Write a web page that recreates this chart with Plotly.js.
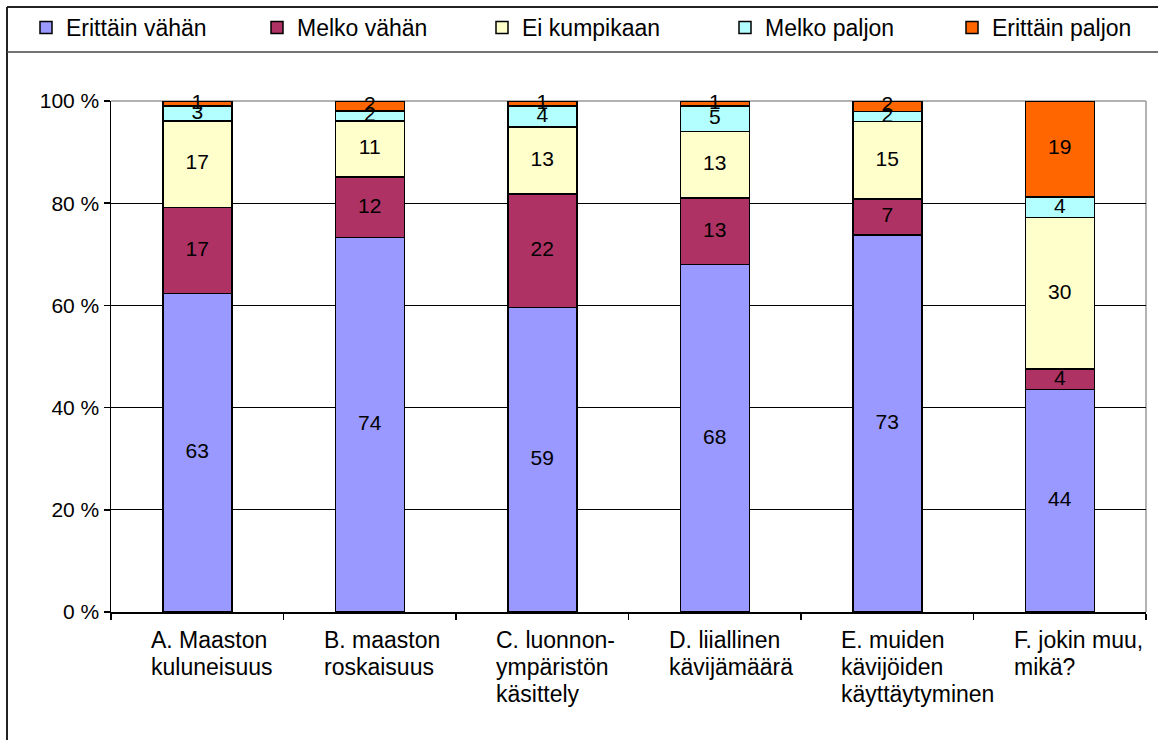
<!DOCTYPE html>
<html>
<head>
<meta charset="utf-8">
<script src="https://cdn.plot.ly/plotly-3.0.1.min.js"></script>
<style>
html,body{margin:0;padding:0;background:#fff;}
#chart{width:1158px;height:740px;}
</style>
</head>
<body>
<div id="chart"></div>
<script>
// ---- data ----
const categories = ['A', 'B', 'C', 'D', 'E', 'F'];
const categoryLines = [
  ['A. Maaston', 'kuluneisuus'],
  ['B. maaston', 'roskaisuus'],
  ['C. luonnon-', 'ympäristön', 'käsittely'],
  ['D. liiallinen', 'kävijämäärä'],
  ['E. muiden', 'kävijöiden', 'käyttäytyminen'],
  ['F. jokin muu,', 'mikä?']
];
const seriesNames = ['Erittäin vähän', 'Melko vähän', 'Ei kumpikaan', 'Melko paljon', 'Erittäin paljon'];
const erittainVahan  = [63, 74, 59, 68, 73, 44];
const melkoVahan     = [17, 12, 22, 13, 7, 4];
const eiKumpikaan    = [17, 11, 13, 13, 15, 30];
const melkoPaljon    = [3, 2, 4, 5, 2, 4];
const erittainPaljon = [1, 2, 1, 1, 2, 19];
const yTicks = [0, 20, 40, 60, 80, 100];
const yTickText = ['0 %', '20 %', '40 %', '60 %', '80 %', '100 %'];

// ---- styling ----
const seriesValues = [erittainVahan, melkoVahan, eiKumpikaan, melkoPaljon, erittainPaljon];
const colors = ['#9999FF', '#AE3264', '#FFFFCC', '#B3FFFF', '#FF6600'];
const FONT = '"Liberation Sans", Arial, sans-serif';
const legendTextStart = [66, 297, 522, 765, 992];

const L = 111, R = 12, T = 101, B = 128, W = 1158, H = 740;
const pw = W - L - R, ph = H - T - B;
const px = v => (v - L) / pw;
const py = v => (H - B - v) / ph;

const traces = [];
seriesValues.forEach((vals, i) => {
  traces.push({
    type: 'bar',
    name: seriesNames[i],
    legend: i === 0 ? 'legend' : 'legend' + (i + 1),
    x: categories,
    y: vals,
    marker: {color: colors[i], line: {color: '#000', width: 1.5}},
    hoverinfo: 'skip'
  });
});

// data labels at segment centres (normalised like the bars)
const totals = categories.map((c, j) => seriesValues.reduce((s, v) => s + v[j], 0));
const cum = categories.map(() => 0);
const lx = [], ly = [], lt = [];
seriesValues.forEach(vals => {
  vals.forEach((v, j) => {
    const start = cum[j];
    cum[j] += v;
    lx.push(categories[j]);
    ly.push((start + v / 2) / totals[j] * 100);
    lt.push(String(v));
  });
});
traces.push({
  type: 'scatter', mode: 'text', x: lx, y: ly, text: lt,
  textposition: 'middle center',
  textfont: {family: FONT, size: 21, color: '#000'},
  showlegend: false, hoverinfo: 'skip', cliponaxis: false
});

// category labels (left aligned lines)
const annotations = [];
categoryLines.forEach((lines, j) => {
  lines.forEach((t, k) => {
    annotations.push({
      x: categories[j], xref: 'x', y: 0, yref: 'paper',
      text: t, showarrow: false, xanchor: 'left', yanchor: 'top',
      xshift: -48, yshift: -13 - k * 27,
      font: {family: FONT, size: 23, color: '#000'}
    });
  });
});

const shapes = [
  // outer frame (cropped)
  {type: 'line', xref: 'paper', yref: 'paper', x0: px(7), x1: px(W + 5), y0: py(7), y1: py(7), line: {color: '#222', width: 2}},
  {type: 'line', xref: 'paper', yref: 'paper', x0: px(7), x1: px(7), y0: py(7), y1: py(H + 5), line: {color: '#222', width: 2}},
  {type: 'line', xref: 'paper', yref: 'paper', x0: px(7), x1: px(W + 5), y0: py(52), y1: py(52), line: {color: '#444', width: 1.5}},
  // plot area gray border top/right
  {type: 'line', xref: 'paper', yref: 'paper', x0: 0, x1: 1, y0: 1, y1: 1, line: {color: '#999', width: 1.5}, layer: 'between'},
  {type: 'line', xref: 'paper', yref: 'paper', x0: 1, x1: 1, y0: 0, y1: 1, line: {color: '#999', width: 1.5}, layer: 'between'}
];

const layout = {
  width: W, height: H,
  margin: {l: L, r: R, t: T, b: B, pad: 0, autoexpand: false},
  paper_bgcolor: '#fff', plot_bgcolor: '#fff',
  font: {family: FONT, color: '#000'},
  barmode: 'stack', barnorm: 'percent', bargap: 0.6,
  showlegend: true,
  xaxis: {
    type: 'category', showticklabels: false,
    showline: true, linecolor: '#000', linewidth: 1.5,
    ticks: 'outside', tickson: 'boundaries', ticklen: 6, tickcolor: '#000', tickwidth: 1.5,
    showgrid: false, zeroline: false, fixedrange: true
  },
  yaxis: {
    range: [0, 100], tickmode: 'array', tickvals: yTicks, ticktext: yTickText,
    tickfont: {family: FONT, size: 21, color: '#000'},
    showline: true, linecolor: '#000', linewidth: 1.5,
    ticks: 'outside', ticklen: 6, tickcolor: '#000', tickwidth: 1.5,
    showgrid: true, gridcolor: '#000', gridwidth: 1, zeroline: false, fixedrange: true
  },
  shapes: shapes,
  annotations: annotations
};

legendTextStart.forEach((ts, i) => {
  const key = i === 0 ? 'legend' : 'legend' + (i + 1);
  layout[key] = {
    orientation: 'h', x: px(ts - 40), xanchor: 'left', y: py(6), yanchor: 'top',
    font: {family: FONT, size: 23, color: '#000'},
    bgcolor: 'rgba(0,0,0,0)', borderwidth: 0
  };
});

Plotly.newPlot('chart', traces, layout, {staticPlot: true});
</script>
</body>
</html>
